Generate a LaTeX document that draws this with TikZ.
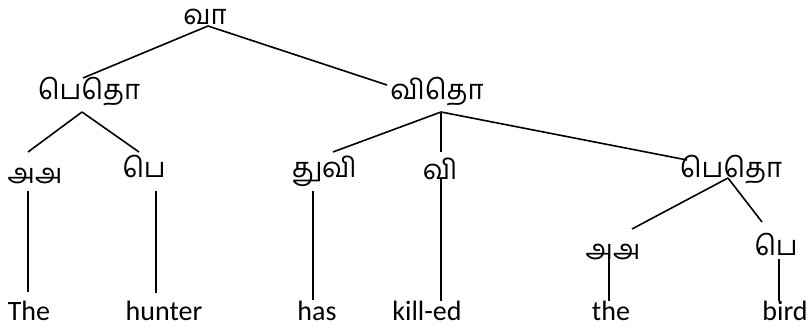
\documentclass[tikz,border=0pt]{standalone}
\usepackage{fontspec}
\setmainfont{Carlito}
\newfontfamily\tamilfont[Script=Tamil]{Hind Madurai}
\usetikzlibrary{calc}
\begin{document}
\begin{tikzpicture}[x=1pt,y=-1pt,
  ta/.style={inner sep=0pt,anchor=base,font=\tamilfont\fontsize{27.5}{32}\selectfont},
  en/.style={inner sep=0pt,anchor=base,font=\fontsize{28}{34}\selectfont},
  edge/.style={line width=1.6pt,black}]
\useasboundingbox (0,0) rectangle (808,328);
% Tamil category labels
\node[ta] (va)   at (205,25)  {வா};
\node[ta] (pL)   at (89,100)  {பெதொ};
\node[ta] (vt)   at (437,100) {விதொ};
\node[ta] (aaL)  at (35,184)  {அஅ};
\node[ta] (peL)  at (144,178) {பெ};
\node[ta] (tuvi) at (324,178) {துவி};
\node[ta] (vi)   at (440,180) {வி};
\node[ta] (pR)   at (731,178) {பெதொ};
\node[ta] (aaR)  at (613,260) {அஅ};
\node[ta] (peR)  at (776,256) {பெ};
% words
\node[en] (w1) at (29,320)  {The};
\node[en] (w2) at (164,320) {hunter};
\node[en] (w3) at (317,320) {has};
\node[en] (w4) at (427,320) {kill-ed};
\node[en] (w5) at (611,320) {the};
\node[en] (w6) at (785,320) {bird};
% edges
\draw[edge] ($(va.base)+(3,1)$) -- ($(pL.base)+(-6,-22)$);
\draw[edge] ($(va.base)+(3,1)$) -- ($(vt.base)+(-50,-15)$);
\draw[edge] ($(pL.base)+(-7,12)$) -- ($(aaL.base)+(-7,-32)$);
\draw[edge] ($(pL.base)+(-7,12)$) -- ($(peL.base)+(-5,-26)$);
\draw[edge] ($(vt.base)+(4,12)$) -- ($(tuvi.base)+(9,-26)$);
\draw[edge] ($(vt.base)+(4,12)$) -- ($(vi.base)+(1,-28)$);
\draw[edge] ($(vt.base)+(4,12)$) -- ($(pR.base)+(-44,-18)$);
\draw[edge] ($(aaL.base)+(-7,7)$) -- ($(w1.base)+(-1,-28)$);
\draw[edge] ($(peL.base)+(12,13)$) -- ($(w2.base)+(-8,-27)$);
\draw[edge] ($(tuvi.base)+(-11,13)$) -- ($(w3.base)+(-4,-20)$);
\draw[edge] ($(vi.base)+(1,-2)$) -- ($(w4.base)+(14,-19)$);
\draw[edge] ($(pR.base)+(-3,0)$) -- ($(aaR.base)+(19,-31)$);
\draw[edge] ($(pR.base)+(-3,0)$) -- ($(peR.base)+(-14,-34)$);
\draw[edge] ($(aaR.base)+(-4,-6)$) -- ($(w5.base)+(-2,-19)$);
\draw[edge] ($(peR.base)+(3,3)$) -- ($(w6.base)+(-6,-19)$);
\end{tikzpicture}
\end{document}
